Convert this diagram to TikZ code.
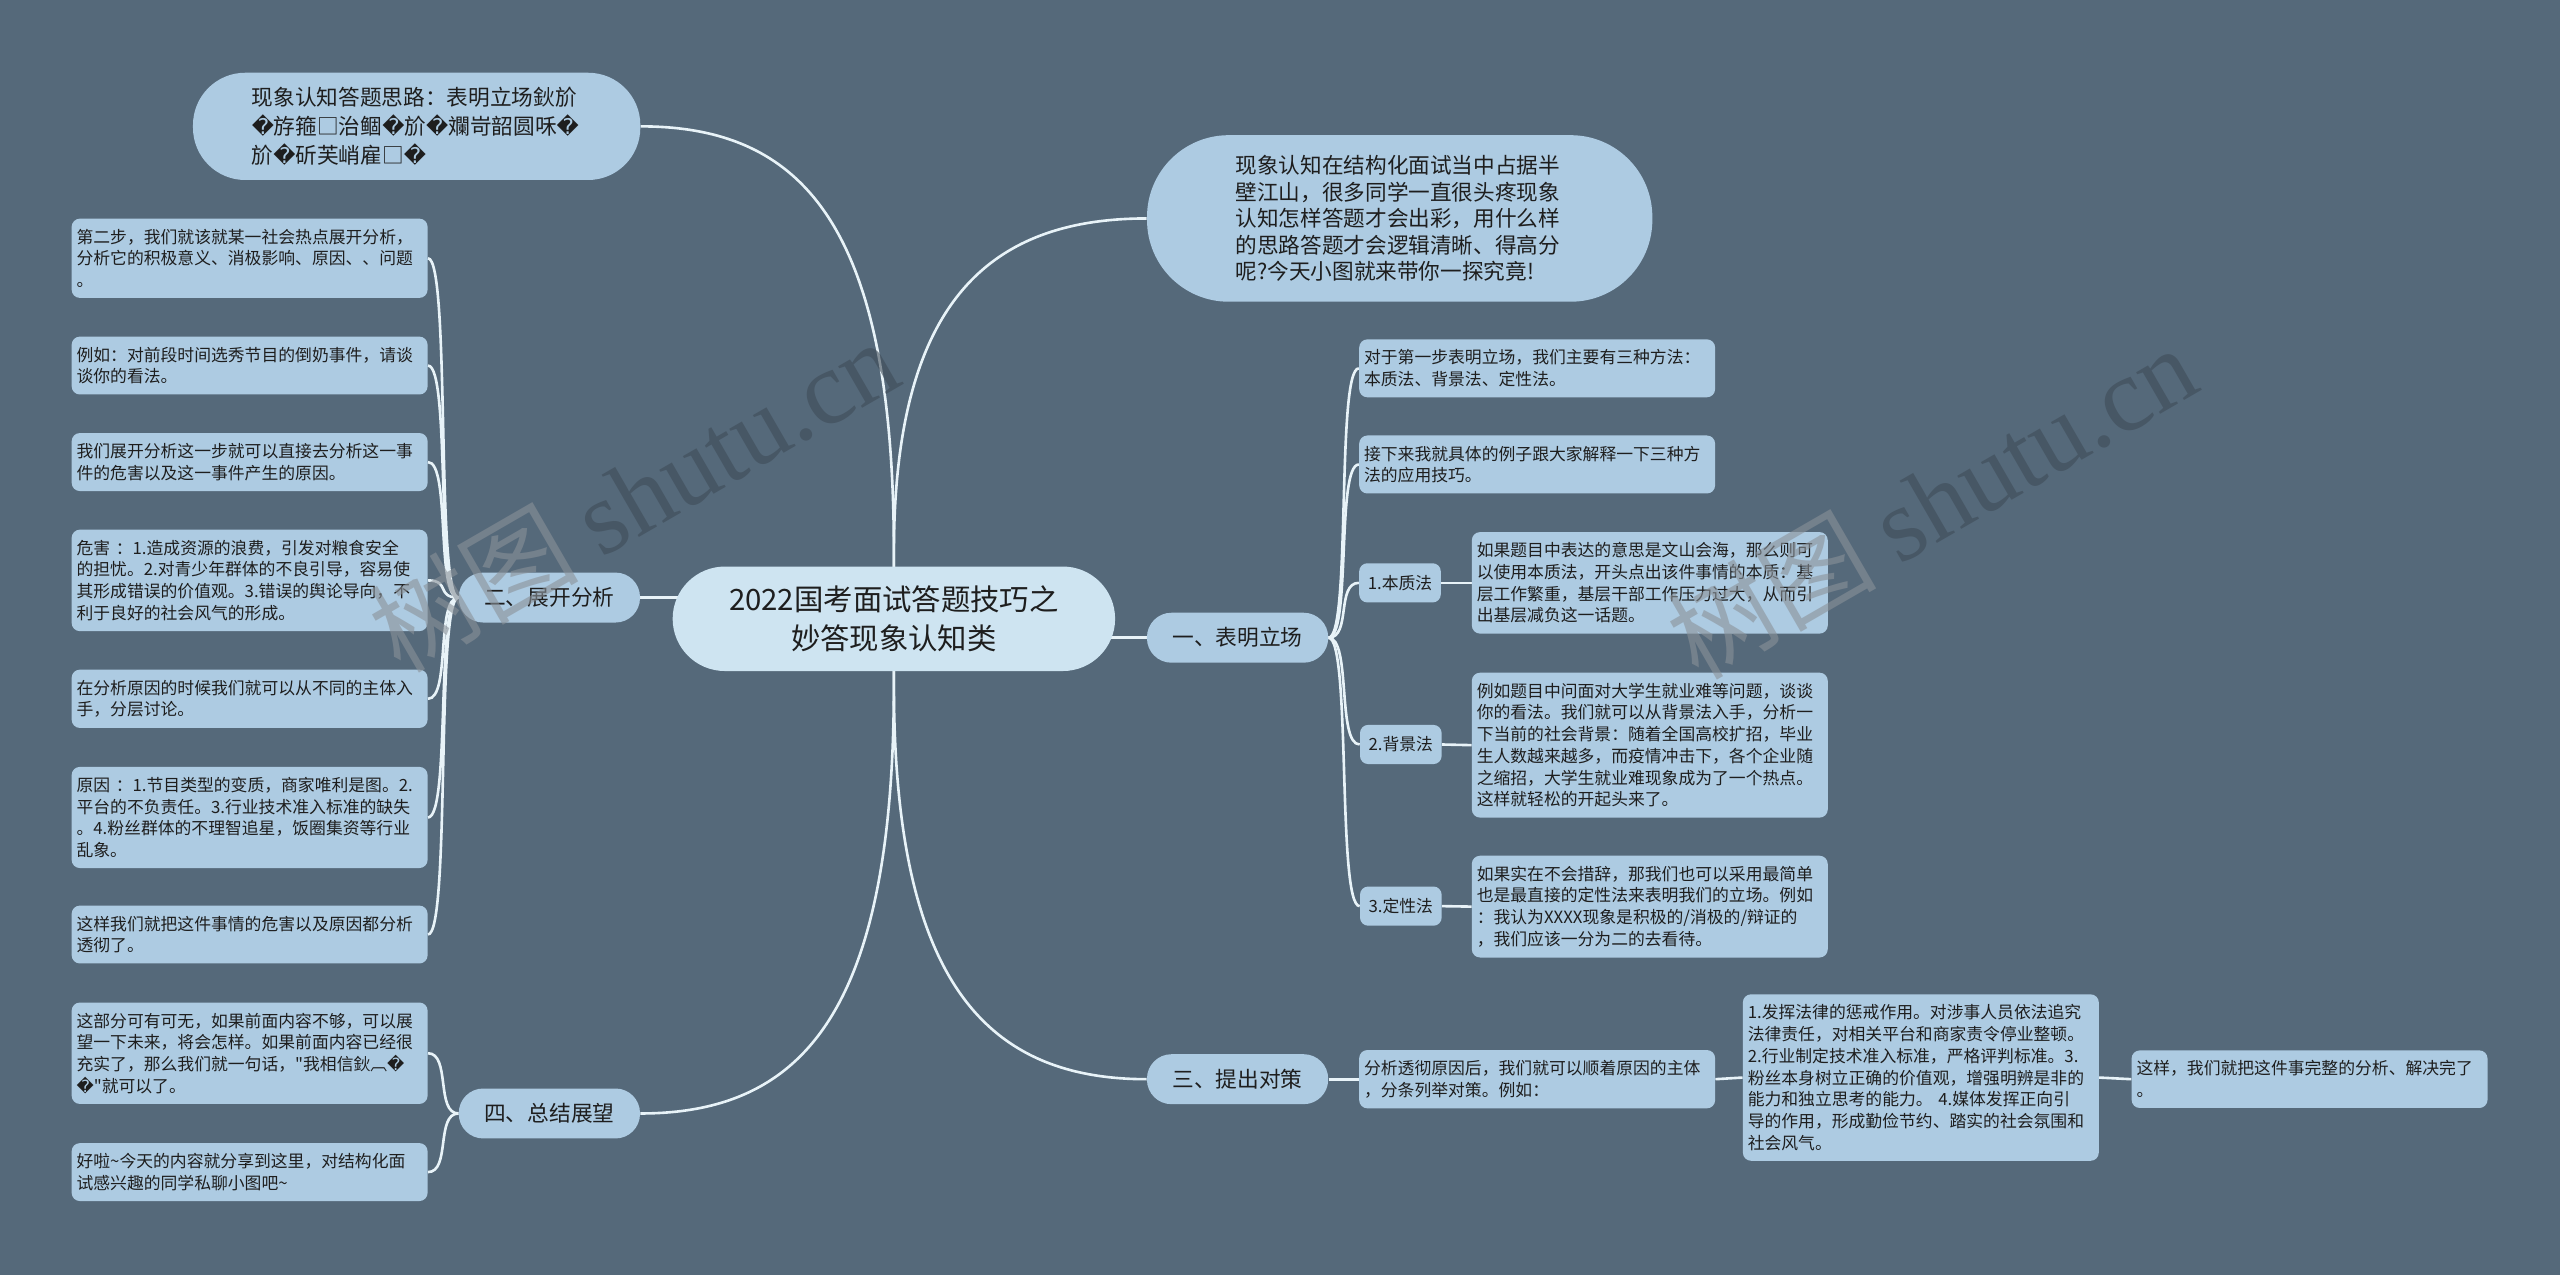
\documentclass[tikz,border=0pt]{standalone}
\usepackage{fontspec}
\setmainfont{Noto Sans CJK SC}
\newfontfamily\dvfont{DejaVu Sans}
\newfontfamily\qfont{Noto Sans CJK SC}[Ligatures=TeXOff]
\newfontfamily\wmfont{Liberation Serif}
\newcommand{\rc}{{\dvfont\symbol{"FFFD}}}
\newcommand{\dq}{{\qfont\symbol{34}}}
\definecolor{bgc}{HTML}{55697A}
\definecolor{leafc}{HTML}{ADCBE2}
\definecolor{rootc}{HTML}{CEE4F1}
\definecolor{txtc}{HTML}{1E1E1E}
\definecolor{linec}{HTML}{E8F3F8}
\definecolor{wmc}{HTML}{8A9198}
\definecolor{wmd}{HTML}{3E4B57}
\pgfdeclarelayer{bg}
\pgfsetlayers{bg,main}
\tikzset{
  leaf/.style={fill=leafc, text=txtc, rounded corners=5pt, text width=212pt, align=left,
    inner xsep=3pt, inner ysep=6.3pt, font=\fontsize{10.3pt}{13.3pt}\selectfont},
  small/.style={fill=leafc, text=txtc, rounded corners=5pt, minimum width=50pt, minimum height=24pt,
    inner sep=0pt, font=\fontsize{10.3pt}{13.3pt}\selectfont},
  branch/.style={fill=leafc, text=txtc, rounded corners=15pt, minimum width=111pt, minimum height=30.6pt,
    inner sep=0pt, font=\fontsize{13.3pt}{16pt}\selectfont},
  bigpill/.style={fill=leafc, text=txtc, inner sep=0pt, align=left},
  rootnode/.style={fill=rootc, text=txtc, rounded corners=32pt, minimum width=271pt, minimum height=64pt,
    inner sep=0pt, align=center, font=\fontsize{18pt}{24pt}\selectfont},
  conn/.style={draw=linec, line width=1.6pt},
  wm/.style={opacity=0.6, rotate=30, inner sep=0pt, font=\fontsize{64pt}{64pt}\selectfont}
}
\begin{document}
\begin{tikzpicture}[x=1pt, y=-1pt]
\useasboundingbox (0,0) rectangle (1568,781);

% root and main branches
\node[rootnode] (root) at (547.5,379) {2022国考面试答题技巧之\\妙答现象认知类};
\node[bigpill, rounded corners=32pt, minimum width=274pt, minimum height=65.7pt, text width=202pt,
  font=\fontsize{13.27pt}{17.6pt}\selectfont] (tl) at (255.2,77.4)
  {现象认知答题思路：表明立场鈥斺\\\rc 斿箍□治鲴\rc 斺\rc 斕岢韶圆咊\rc\\斺\rc 斫芙峭雇□\rc};
\node[bigpill, rounded corners=50pt, minimum width=309.5pt, minimum height=102pt, text width=201pt,
  font=\fontsize{13.25pt}{16.3pt}\selectfont] (tr) at (857.3,133.8)
  {现象认知在结构化面试当中占据半\\壁江山，很多同学一直很头疼现象\\认知怎样答题才会出彩，用什么样\\的思路答题才会逻辑清晰、得高分\\呢?今天小图就来带你一探究竟!};
\node[branch] (er) at (336.5,366) {二、展开分析};
\node[branch] (four) at (336.5,682) {四、总结展望};
\node[branch] (one) at (758,390.6) {一、表明立场};
\node[branch] (three) at (758,661) {三、提出对策};

% left leaves
\node[leaf] (L1) at (152.9,158.2) {第二步，我们就该就某一社会热点展开分析，\\分析它的积极意义、消极影响、原因、、问题\\。};
\node[leaf] (L2) at (152.9,223.9) {例如：对前段时间选秀节目的倒奶事件，请谈\\谈你的看法。};
\node[leaf] (L3) at (152.9,283) {我们展开分析这一步就可以直接去分析这一事\\件的危害以及这一事件产生的原因。};
\node[leaf] (L4) at (152.9,355.5) {危害 ：1.造成资源的浪费，引发对粮食安全\\的担忧。2.对青少年群体的不良引导，容易使\\其形成错误的价值观。3.错误的舆论导向，不\\利于良好的社会风气的形成。};
\node[leaf] (L5) at (152.9,428) {在分析原因的时候我们就可以从不同的主体入\\手，分层讨论。};
\node[leaf] (L6) at (152.9,500.7) {原因 ：1.节目类型的变质，商家唯利是图。2.\\平台的不负责任。3.行业技术准入标准的缺失\\。4.粉丝群体的不理智追星，饭圈集资等行业\\乱象。};
\node[leaf] (L7) at (152.9,572.4) {这样我们就把这件事情的危害以及原因都分析\\透彻了。};
\node[leaf] (L8) at (152.9,645.1) {这部分可有可无，如果前面内容不够，可以展\\望一下未来，将会怎样。如果前面内容已经很\\充实了，那么我们就一句话，\dq 我相信鈥︹\rc\\\rc\dq 就可以了。};
\node[leaf] (L9) at (152.9,717.9) {好啦\textasciitilde 今天的内容就分享到这里，对结构化面\\试感兴趣的同学私聊小图吧\textasciitilde};

% right side
\node[leaf] (R1) at (941.5,225.6) {对于第一步表明立场，我们主要有三种方法：\\本质法、背景法、定性法。};
\node[leaf] (R2) at (941.5,284.5) {接下来我就具体的例子跟大家解释一下三种方\\法的应用技巧。};
\node[small] (s1) at (857.5,357) {1.本质法};
\node[small] (s2) at (858,456) {2.背景法};
\node[small] (s3) at (858,555) {3.定性法};
\node[leaf] (d1) at (1010.5,357) {如果题目中表达的意思是文山会海，那么则可\\以使用本质法，开头点出该件事情的本质：基\\层工作繁重，基层干部工作压力过大，从而引\\出基层减负这一话题。};
\node[leaf] (d2) at (1010.5,456.4) {例如题目中问面对大学生就业难等问题，谈谈\\你的看法。我们就可以从背景法入手，分析一\\下当前的社会背景：随着全国高校扩招，毕业\\生人数越来越多，而疫情冲击下，各个企业随\\之缩招，大学生就业难现象成为了一个热点。\\这样就轻松的开起头来了。};
\node[leaf] (d3) at (1010.5,555.3) {如果实在不会措辞，那我们也可以采用最简单\\也是最直接的定性法来表明我们的立场。例如\\：我认为XXXX现象是积极的/消极的/辩证的\\，我们应该一分为二的去看待。};
\node[leaf] (c) at (941.5,661) {分析透彻原因后，我们就可以顺着原因的主体\\，分条列举对策。例如：};
\node[leaf] (gc) at (1176.5,660) {1.发挥法律的惩戒作用。对涉事人员依法追究\\法律责任，对相关平台和商家责令停业整顿。\\2.行业制定技术准入标准，严格评判标准。3.\\粉丝本身树立正确的价值观，增强明辨是非的\\能力和独立思考的能力。 4.媒体发挥正向引\\导的作用，形成勤俭节约、踏实的社会氛围和\\社会风气。};
\node[leaf] (fin) at (1414.6,661) {这样，我们就把这件事完整的分析、解决完了\\。};

% background and connectors
\begin{pgfonlayer}{bg}
\fill[bgc] (0,0) rectangle (1568,781);
\draw[conn] (root.center) -- ++(0,-40) .. controls +(0,-200) and +(100,0) .. (tl.east);
\draw[conn] (root.center) -- ++(0,-40) .. controls +(0,-150) and +(-100,0) .. (tr.west);
\draw[conn] (root.center) -- ++(0,40) .. controls +(0,200) and +(100,0) .. (four.east);
\draw[conn] (root.center) -- ++(0,40) .. controls +(0,180) and +(-100,0) .. (three.west);
\draw[conn] (er.east) -- (root.center |- er.east);
\draw[conn] (one.west) -- (root.center |- one.west);
\foreach \n in {L1,L2,L3,L4,L5,L6,L7}
  \draw[conn] (er.west) .. controls +(-14,0) and +(14,0) .. (\n.east);
\foreach \n in {L8,L9}
  \draw[conn] (four.west) .. controls +(-14,0) and +(14,0) .. (\n.east);
\foreach \n in {R1,R2,s1,s2,s3}
  \draw[conn] (one.east) .. controls +(14,0) and +(-14,0) .. (\n.west);
\draw[conn] (s1.east) -- (d1.west);
\draw[conn] (s2.east) -- (d2.west);
\draw[conn] (s3.east) -- (d3.west);
\draw[conn] (three.east) -- (c.west);
\draw[conn] (c.east) -- (gc.west);
\draw[conn] (gc.east) -- (fin.west);
\end{pgfonlayer}

% watermarks
\node[wm] (wm1) at (388,303) {\textcolor{wmc}{树图} \textcolor{wmd}{\wmfont shutu.cn}};
\node[wm] (wm2) at (1183,307) {\textcolor{wmc}{树图} \textcolor{wmd}{\wmfont shutu.cn}};
\end{tikzpicture}
\end{document}
